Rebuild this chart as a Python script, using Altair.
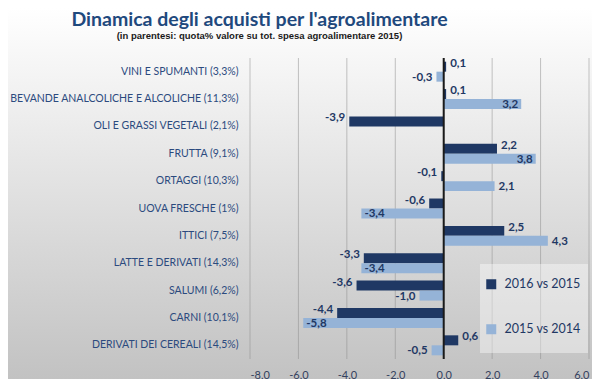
import altair as alt
import pandas as pd

categories = [
    "VINI E SPUMANTI (3,3%)",
    "BEVANDE ANALCOLICHE E ALCOLICHE (11,3%)",
    "OLI E GRASSI VEGETALI (2,1%)",
    "FRUTTA (9,1%)",
    "ORTAGGI (10,3%)",
    "UOVA FRESCHE (1%)",
    "ITTICI (7,5%)",
    "LATTE E DERIVATI (14,3%)",
    "SALUMI (6,2%)",
    "CARNI (10,1%)",
    "DERIVATI DEI CEREALI (14,5%)",
]
v_2016_vs_2015 = [0.1, 0.1, -3.9, 2.2, -0.1, -0.6, 2.5, -3.3, -3.6, -4.4, 0.6]
v_2015_vs_2014 = [-0.3, 3.2, None, 3.8, 2.1, -3.4, 4.3, -3.4, -1.0, -5.8, -0.5]
series_names = ["2016 vs 2015", "2015 vs 2014"]
x_ticks = [-8, -6, -4, -2, 0, 2, 4, 6]

rows = []
for c, a, b in zip(categories, v_2016_vs_2015, v_2015_vs_2014):
    rows.append({"cat": c, "series": series_names[0], "v": a})
    if b is not None:
        rows.append({"cat": c, "series": series_names[1], "v": b})
df = pd.DataFrame(rows)

DARK = "#1F3864"
LIGHT = "#95B3D7"
TXT = "#1F3864"
FONT = "Lato"

W, H = 339, 301
PAD_L, PAD_T, PAD_R, PAD_B = 242, 50, 3, 20

FMT = "replace(replace(format({v}, '.1f'), '.', ','), '\u2212', '-')"

xscale = alt.Scale(domain=[-8, 6], nice=False, zero=False)
yscale = alt.Scale(domain=categories, paddingInner=0.27, paddingOuter=0.135)
yoff = alt.YOffset("series:N", sort=series_names,
                   scale=alt.Scale(domain=series_names, paddingInner=0, paddingOuter=0))
xaxis = alt.Axis(values=x_ticks, title=None, domain=False, ticks=False,
                 labelPadding=10, labelFont=FONT, labelFontSize=11,
                 labelColor="#34415e", zindex=2,
                 labelExpr=FMT.format(v="datum.value"), grid=False)

base = alt.Chart(df).transform_calculate(
    label=FMT.format(v="datum.v"),
    inside=f"datum.series == '{series_names[1]}' && abs(datum.v) >= 3 && datum.v < 4",
)

one = pd.DataFrame({"a": [0]})

bg = alt.Chart(one).mark_rect(
    fill=alt.Gradient(
        gradient="linear",
        stops=[alt.GradientStop(color="#ffffff", offset=0),
               alt.GradientStop(color="#c2c2c2", offset=1)],
        x1=0, x2=0, y1=0, y2=1,
    )
).encode(
    x=alt.value(-PAD_L), x2=alt.value(W + PAD_R),
    y=alt.value(-PAD_T), y2=alt.value(H + PAD_B),
)

grid = alt.Chart(pd.DataFrame({"t": x_ticks})).mark_rule(
    color="#8c8c8c", opacity=0.5, strokeWidth=1
).encode(x=alt.X("t:Q", scale=xscale, axis=xaxis))

# translucent panel behind the legend
legend_box = alt.Chart(one).mark_rect(fill="#ffffff", opacity=0.4).encode(
    x=alt.value(230), x2=alt.value(338), y=alt.value(206), y2=alt.value(295)
)

bars = base.mark_bar().encode(
    x=alt.X("v:Q", scale=xscale, axis=xaxis),
    y=alt.Y("cat:N", scale=yscale, sort=categories,
            axis=alt.Axis(title=None, domain=False, ticks=False, labelPadding=12,
                          labelFont=FONT, labelFontSize=10.5, labelColor="#2B4A7E",
                          labelLimit=400, zindex=2)),
    yOffset=yoff,
    color=alt.Color("series:N", sort=series_names,
                    scale=alt.Scale(domain=series_names, range=[DARK, LIGHT]),
                    legend=alt.Legend(title=None, orient="none", legendX=230, legendY=215,
                                      padding=5, symbolType="square", symbolSize=100,
                                      symbolStrokeWidth=0, labelFont=FONT,
                                      labelFontSize=12.5, labelColor=TXT, labelOffset=7,
                                      rowPadding=32, zindex=2)),
)

zero = alt.Chart(pd.DataFrame({"z": [0]})).mark_rule(color="#1a1a1a", strokeWidth=2).encode(
    x=alt.X("z:Q", scale=xscale, axis=xaxis)
)

def lab(cond, align, dx, dy):
    return base.transform_filter(cond).mark_text(
        align=align, baseline="middle", dx=dx, dy=dy, font=FONT, fontSize=11.5,
        fontWeight="bold", color=TXT
    ).encode(
        x=alt.X("v:Q", scale=xscale, axis=xaxis),
        y=alt.Y("cat:N", scale=yscale, sort=categories),
        yOffset=yoff,
        text="label:N",
    )

D = f"datum.series == '{series_names[0]}'"
L = f"datum.series == '{series_names[1]}'"
labels = [
    lab(f"{D} && datum.v >= 0", "left", 4, -3),
    lab(f"{D} && datum.v < 0", "right", -4, -3),
    lab(f"{L} && !datum.inside && datum.v >= 0", "left", 4, 1),
    lab(f"{L} && !datum.inside && datum.v < 0", "right", -4, 1),
    lab(f"{L} && datum.inside && datum.v >= 0", "right", -3, 1),
    lab(f"{L} && datum.inside && datum.v < 0", "left", 3, 1),
]

chart = alt.layer(bg, grid, legend_box, bars, zero, *labels).properties(
    width=W, height=H,
    padding={"left": PAD_L, "top": PAD_T, "right": PAD_R, "bottom": PAD_B},
    autosize=alt.AutoSizeParams(type="none"),
    title=alt.TitleParams(
        text="Dinamica degli acquisti per l'agroalimentare",
        subtitle="(in parentesi: quota% valore su tot.  spesa agroalimentare 2015)",
        anchor="middle", frame="group", dx=-160, offset=-33, zindex=2,
        font=FONT, fontSize=19.5, fontWeight="bold", color="#1F497D",
        subtitleFont="Liberation Sans", subtitleFontSize=9.5, subtitleFontWeight="bold",
        subtitleColor="#1a1a1a", subtitlePadding=0,
    ),
).configure_view(stroke=None)

chart.save("out.html", embed_options={"renderer": "svg", "actions": False})
